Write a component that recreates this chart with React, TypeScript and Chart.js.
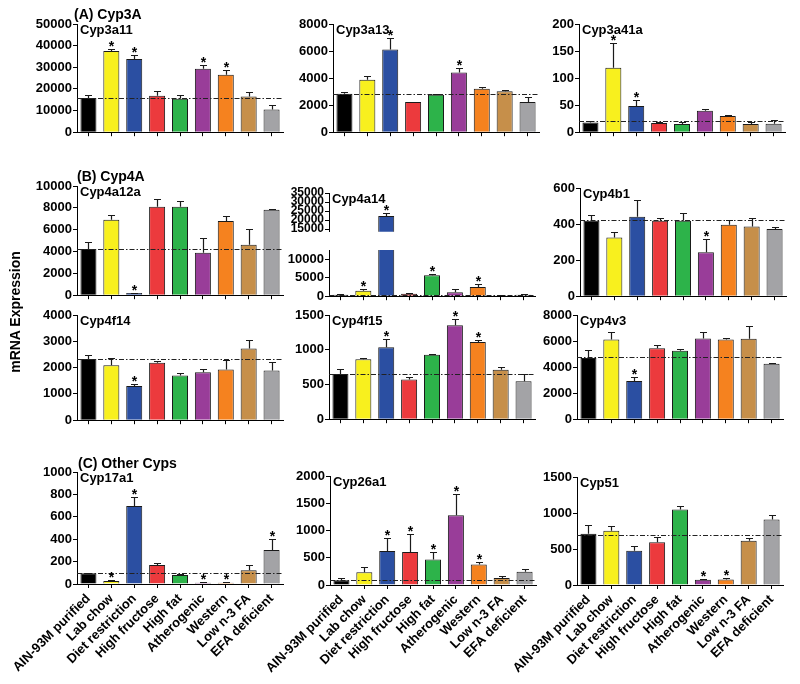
import React, { useEffect, useRef } from "react";
import { Chart, registerables } from "chart.js";
Chart.register(...registerables);

const FONT = "'Liberation Sans', Arial, Helvetica, sans-serif";

const categories = ["AIN-93M purified", "Lab chow", "Diet restriction", "High fructose", "High fat", "Atherogenic", "Western", "Low n-3 FA", "EFA deficient"];
const barColors = ["#000000", "#f8f01e", "#2b4fa2", "#ec3a3d", "#2db34a", "#993d99", "#f5821f", "#c68f4a", "#a3a3a6"];

// (A) Cyp3A
const cyp3a11Mean = [15800, 37500, 33800, 16800, 15500, 29300, 26600, 16500, 10500];
const cyp3a11Sem = [1200, 800, 1900, 2200, 1900, 1700, 2200, 2300, 2300];
const cyp3a11Sig = [0, 1, 1, 0, 0, 1, 1, 0, 0];
const cyp3a11Ref = 16000;
const cyp3a11Ticks = [0, 10000, 20000, 30000, 40000, 50000];

const cyp3a13Mean = [2840, 3880, 6110, 2230, 2760, 4410, 3220, 3030, 2230];
const cyp3a13Sem = [120, 250, 870, 30, 60, 370, 90, 120, 360];
const cyp3a13Sig = [0, 0, 1, 0, 0, 1, 0, 0, 0];
const cyp3a13Ref = 2860;
const cyp3a13Ticks = [0, 2000, 4000, 6000, 8000];

const cyp3a41aMean = [18, 119, 48.5, 17, 15, 39.5, 30, 15, 15.5];
const cyp3a41aSem = [3, 46, 11, 1, 4.5, 3.5, 2, 4, 6.5];
const cyp3a41aSig = [0, 1, 1, 0, 0, 0, 0, 0, 0];
const cyp3a41aRef = 21;
const cyp3a41aTicks = [0, 50, 100, 150, 200];

// (B) Cyp4A
const cyp4a12aMean = [4240, 6900, 210, 8090, 8090, 3880, 6800, 4630, 7820];
const cyp4a12aSem = [600, 410, 30, 720, 570, 1400, 450, 1400, 60];
const cyp4a12aSig = [0, 0, 1, 0, 0, 0, 0, 0, 0];
const cyp4a12aRef = 4270;
const cyp4a12aTicks = [0, 2000, 4000, 6000, 8000, 10000];

const cyp4a14Mean = [380, 1500, 22270, 670, 5670, 1080, 2500, 170, 400];
const cyp4a14Sem = [100, 580, 1820, 330, 330, 1000, 830, 80, 170];
const cyp4a14Sig = [0, 1, 1, 0, 1, 0, 1, 0, 0];
const cyp4a14Ref = 400;
const cyp4a14UpperTicks = [15000, 20000, 25000, 30000, 35000];
const cyp4a14LowerTicks = [0, 5000, 10000];

const cyp4b1Mean = [419, 326, 441, 418, 419, 244, 396, 387, 372];
const cyp4b1Sem = [33, 28, 95, 14, 44, 75, 27, 49, 13];
const cyp4b1Sig = [0, 0, 0, 0, 0, 1, 0, 0, 0];
const cyp4b1Ref = 421;
const cyp4b1Ticks = [0, 200, 400, 600];

const cyp4f14Mean = [2330, 2090, 1300, 2180, 1700, 1820, 1930, 2730, 1890];
const cyp4f14Sem = [160, 280, 60, 80, 80, 120, 350, 310, 310];
const cyp4f14Sig = [0, 0, 1, 0, 0, 0, 0, 0, 0];
const cyp4f14Ref = 2340;
const cyp4f14Ticks = [0, 1000, 2000, 3000, 4000];

const cyp4f15Mean = [652, 862, 1034, 573, 927, 1351, 1113, 713, 545];
const cyp4f15Sem = [70, 14, 126, 37, 9, 89, 28, 37, 102];
const cyp4f15Sig = [0, 0, 1, 0, 0, 1, 1, 0, 0];
const cyp4f15Ref = 652;
const cyp4f15Ticks = [0, 500, 1000, 1500];

const cyp4v3Mean = [4700, 6125, 2925, 5450, 5250, 6200, 6125, 6175, 4250];
const cyp4v3Sem = [600, 575, 300, 250, 125, 525, 100, 1000, 75];
const cyp4v3Sig = [0, 0, 1, 0, 0, 0, 0, 0, 0];
const cyp4v3Ref = 4750;
const cyp4v3Ticks = [0, 2000, 4000, 6000, 8000];

// (C) Other Cyps
const cyp17a1Mean = [95, 27, 697, 169, 80, 12, 12, 122, 303];
const cyp17a1Sem = [3, 9, 80, 21, 9, 2, 2, 47, 97];
const cyp17a1Sig = [0, 1, 1, 0, 0, 1, 1, 0, 1];
const cyp17a1Ref = 98;
const cyp17a1Ticks = [0, 200, 400, 600, 800, 1000];

const cyp26a1Mean = [85, 232, 622, 604, 470, 1280, 378, 128, 244];
const cyp26a1Sem = [37, 91, 232, 329, 140, 397, 49, 43, 49];
const cyp26a1Sig = [0, 0, 1, 1, 1, 1, 1, 0, 0];
const cyp26a1Ref = 98;
const cyp26a1Ticks = [0, 500, 1000, 1500, 2000];

const cyp51Mean = [711, 752, 475, 595, 1048, 74, 78, 614, 909];
const cyp51Sem = [129, 65, 70, 65, 46, 9, 14, 32, 65];
const cyp51Sig = [0, 0, 0, 0, 0, 1, 1, 0, 0];
const cyp51Ref = 700;
const cyp51Ticks = [0, 500, 1000, 1500];

type Panel = {
  key: string;
  name: string;
  mean: number[];
  sem: number[];
  sig: number[];
  ref: number | null;
  ticks: number[];
  min: number;
  max: number;
  axisX: number;
  top: number;
  bottom: number;
  plotW: number;
  xMode: "none" | "axis" | "labels";
  showName: boolean;
  clip: boolean;
  tickSize: number;
};

const YW = 76;
const PT = 10;
const PR = 6;
const PW = 206;

function mk(
  key: string, name: string, mean: number[], sem: number[], sig: number[], ref: number | null, ticks: number[],
  axisX: number, top: number, bottom: number, xMode: "none" | "axis" | "labels",
  extra: Partial<Panel> = {}
): Panel {
  return {
    key, name, mean, sem, sig, ref, ticks,
    min: ticks[0], max: ticks[ticks.length - 1],
    axisX, top, bottom, plotW: PW, xMode, showName: true, clip: false, tickSize: 13, ...extra,
  };
}

const panels: Panel[] = [
  mk("a1", "Cyp3a11", cyp3a11Mean, cyp3a11Sem, cyp3a11Sig, cyp3a11Ref, cyp3a11Ticks, 77, 24, 135, "axis"),
  mk("a2", "Cyp3a13", cyp3a13Mean, cyp3a13Sem, cyp3a13Sig, cyp3a13Ref, cyp3a13Ticks, 333, 24, 135, "axis"),
  mk("a3", "Cyp3a41a", cyp3a41aMean, cyp3a41aSem, cyp3a41aSig, cyp3a41aRef, cyp3a41aTicks, 579, 24, 135, "axis"),
  mk("b1", "Cyp4a12a", cyp4a12aMean, cyp4a12aSem, cyp4a12aSig, cyp4a12aRef, cyp4a12aTicks, 77, 186, 298, "axis"),
  mk("b2u", "Cyp4a14", cyp4a14Mean, cyp4a14Sem, cyp4a14Sig, cyp4a14Ref, cyp4a14UpperTicks, 329, 193, 240, "none", { min: 13500, max: 35000, clip: true, tickSize: 12 }),
  mk("b2l", "", cyp4a14Mean, cyp4a14Sem, cyp4a14Sig, cyp4a14Ref, cyp4a14LowerTicks, 329, 250, 299, "axis", { min: 0, max: 12500, clip: true, showName: false }),
  mk("b3", "Cyp4b1", cyp4b1Mean, cyp4b1Sem, cyp4b1Sig, cyp4b1Ref, cyp4b1Ticks, 580, 188, 299, "axis"),
  mk("b4", "Cyp4f14", cyp4f14Mean, cyp4f14Sem, cyp4f14Sig, cyp4f14Ref, cyp4f14Ticks, 77, 315, 423, "axis"),
  mk("b5", "Cyp4f15", cyp4f15Mean, cyp4f15Sem, cyp4f15Sig, cyp4f15Ref, cyp4f15Ticks, 329, 315, 422, "axis"),
  mk("b6", "Cyp4v3", cyp4v3Mean, cyp4v3Sem, cyp4v3Sig, cyp4v3Ref, cyp4v3Ticks, 577, 315, 422, "axis"),
  mk("c1", "Cyp17a1", cyp17a1Mean, cyp17a1Sem, cyp17a1Sig, cyp17a1Ref, cyp17a1Ticks, 77, 472, 584, "labels"),
  mk("c2", "Cyp26a1", cyp26a1Mean, cyp26a1Sem, cyp26a1Sig, cyp26a1Ref, cyp26a1Ticks, 330, 476, 585, "labels"),
  mk("c3", "Cyp51", cyp51Mean, cyp51Sem, cyp51Sig, cyp51Ref, cyp51Ticks, 577, 477, 585, "labels"),
];

function overlayPlugin(p: Panel) {
  return {
    id: "overlay_" + p.key,
    afterDatasetsDraw(chart: any) {
      const { ctx, chartArea: a } = chart;
      const y = chart.scales.y;
      ctx.save();
      if (p.ref != null && p.ref >= p.min && p.ref <= p.max) {
        const yy = Math.round(y.getPixelForValue(p.ref)) + 0.5;
        ctx.setLineDash([5, 2, 1.5, 2]);
        ctx.strokeStyle = "#222";
        ctx.lineWidth = 1;
        ctx.beginPath();
        ctx.moveTo(a.left, yy);
        ctx.lineTo(a.right, yy);
        ctx.stroke();
        ctx.setLineDash([]);
      }
      const meta = chart.getDatasetMeta(0);
      ctx.strokeStyle = "#1a1a1a";
      ctx.fillStyle = "#000";
      ctx.lineWidth = 1.2;
      ctx.textAlign = "center";
      ctx.textBaseline = "alphabetic";
      p.mean.forEach((m, i) => {
        const topV = m + p.sem[i];
        if (m < p.min || topV > p.max) return;
        const el = meta.data[i];
        const cx = Math.round(el.x) + 0.5;
        const y0 = y.getPixelForValue(m);
        const y1 = Math.round(y.getPixelForValue(topV)) + 0.5;
        ctx.beginPath();
        ctx.moveTo(cx, y0);
        ctx.lineTo(cx, y1);
        ctx.moveTo(cx - 3.5, y1);
        ctx.lineTo(cx + 3.5, y1);
        ctx.stroke();
        if (p.sig[i]) {
          ctx.font = `bold 14px ${FONT}`;
          ctx.fillText("*", cx, y1 + 1);
        }
      });
      if (p.showName && p.name) {
        ctx.font = `bold 13px ${FONT}`;
        ctx.textAlign = "left";
        ctx.textBaseline = "top";
        ctx.fillText(p.name, a.left + 3, a.top);
      }
      ctx.restore();
    },
  };
}

function PanelChart({ p }: { p: Panel }) {
  const ref = useRef<HTMLCanvasElement>(null);
  const xH = p.xMode === "labels" ? 684 - p.bottom : p.xMode === "axis" ? 6 : 0;
  const w = YW + p.plotW + PR;
  const h = PT + (p.bottom - p.top) + xH;
  useEffect(() => {
    const font = { family: FONT, size: p.tickSize, weight: "bold" as const };
    const chart = new Chart(ref.current as HTMLCanvasElement, {
      type: "bar",
      data: {
        labels: categories,
        datasets: [
          {
            data: p.mean,
            backgroundColor: barColors,
            borderColor: "#1a1a1a",
            borderWidth: 1,
            barPercentage: 0.7,
            categoryPercentage: 1,
            clip: p.clip ? 0 : (false as any),
          },
        ],
      },
      options: {
        responsive: false,
        animation: false,
        devicePixelRatio: 1,
        layout: { padding: { top: PT, right: PR, left: 0, bottom: 0 } },
        plugins: { legend: { display: false }, tooltip: { enabled: false }, title: { display: false } },
        scales: {
          x: {
            display: p.xMode !== "none",
            grid: { display: true, drawOnChartArea: false, drawTicks: true, tickLength: 4, offset: false, color: "#000", lineWidth: 1 },
            border: { display: true, color: "#000", width: 1 },
            ticks: {
              autoSkip: false,
              minRotation: p.xMode === "labels" ? 45 : 0,
              maxRotation: p.xMode === "labels" ? 45 : 0,
              padding: 3,
              color: "#000",
              font: { family: FONT, size: 13, weight: "bold" as const },
              callback: (_v: any, i: number) => (p.xMode === "labels" ? categories[i] : ""),
            },
            afterFit: (s: any) => {
              s.height = xH;
            },
          },
          y: {
            min: p.min,
            max: p.max,
            grid: { display: true, drawOnChartArea: false, drawTicks: true, tickLength: 4, color: "#000", lineWidth: 1 },
            border: { display: true, color: "#000", width: 1 },
            ticks: { autoSkip: false, padding: 1, color: "#000", font, callback: (v: any) => String(v) },
            afterBuildTicks: (s: any) => {
              s.ticks = p.ticks.map((v) => ({ value: v }));
            },
            afterFit: (s: any) => {
              s.width = YW;
            },
          },
        },
      } as any,
      plugins: [overlayPlugin(p)],
    });
    return () => chart.destroy();
  }, []);
  return (
    <canvas
      ref={ref}
      width={w}
      height={h}
      style={{ position: "absolute", left: p.axisX - YW, top: p.top - PT, width: w, height: h }}
    />
  );
}

const sectionStyle: React.CSSProperties = {
  position: "absolute",
  font: `bold 14px ${FONT}`,
  lineHeight: "16px",
  color: "#000",
  whiteSpace: "nowrap",
};

export default function App() {
  return (
    <div style={{ position: "absolute", left: 0, top: 0, width: 800, height: 684, overflow: "hidden", background: "#fff" }}>
      {panels.map((p) => (
        <PanelChart key={p.key} p={p} />
      ))}
      <div style={{ ...sectionStyle, left: 74, top: 6 }}>(A) Cyp3A</div>
      <div style={{ ...sectionStyle, left: 77, top: 168 }}>(B) Cyp4A</div>
      <div style={{ ...sectionStyle, left: 78, top: 455 }}>(C) Other Cyps</div>
      <div
        style={{
          position: "absolute",
          left: 16 - 100,
          top: 312 - 9,
          width: 200,
          height: 18,
          lineHeight: "18px",
          textAlign: "center",
          transform: "rotate(-90deg)",
          font: `bold 14px ${FONT}`,
          color: "#000",
          whiteSpace: "nowrap",
        }}
      >
        mRNA Expression
      </div>
    </div>
  );
}
